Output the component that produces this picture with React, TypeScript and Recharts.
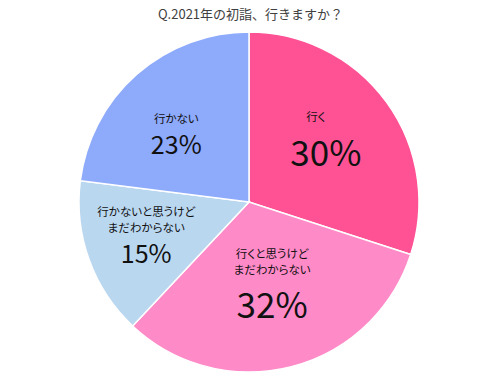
import { PieChart, Pie, Cell } from "recharts";

const answers = ["行く", "行くと思うけど\nまだわからない", "行かないと思うけど\nまだわからない", "行かない"];
const shares = [30, 32, 15, 23];
const colors = ["#FF5295", "#FF8AC8", "#BAD7F0", "#8EAAFB"];

const data = answers.map((name, i) => ({ name, value: shares[i] }));

const RAD = Math.PI / 180;
const FONT = '"Noto Sans CJK JP", "Noto Sans", sans-serif';
// where each label block sits: fraction of the radius, and a small angle nudge
const labelRadius = [0.59, 0.49, 0.635, 0.585];
const labelTurn = [4, 1.7, -2, 5.6];
const LINE = 16;

const renderLabel = (props: any) => {
    const { cx, cy, midAngle, outerRadius, index, name, value } = props;
    const r = outerRadius * labelRadius[index];
    const a = (midAngle + labelTurn[index]) * RAD;
    const x = cx + r * Math.cos(-a);
    const y = cy + r * Math.sin(-a);
    const lines = String(name).split("\n");
    const big = value >= 30;
    const pctGap = big ? 36 : 27;
    const total = (lines.length - 1) * LINE + pctGap + 6 + (big ? 13 : 11);
    const top = y - total / 2 + 6;
    const nameDx = index === 0 ? -10 : 0;
    return (
        <g>
            {lines.map((line, i) => (
                <text
                    key={i}
                    x={x + nameDx}
                    y={top + i * LINE}
                    textAnchor="middle"
                    dominantBaseline="central"
                    fill="#111"
                    fontSize={11.5}
                    fontFamily={FONT}
                    style={{ fontFeatureSettings: '"palt"' }}
                >
                    {line}
                </text>
            ))}
            <text
                x={x}
                y={top + (lines.length - 1) * LINE + pctGap - 2}
                textAnchor="middle"
                dominantBaseline="central"
                fill="#111"
                fontSize={big ? 35 : 25}
                fontFamily={FONT}
            >
                {value}%
            </text>
        </g>
    );
};

export default function App() {
    return (
        <div style={{ position: "fixed", left: 0, top: 0, width: 501, height: 382, background: "#fff" }}>
            <div
                style={{
                    position: "absolute",
                    top: 4,
                    left: 0,
                    width: 501,
                    textAlign: "center",
                    fontFamily: FONT,
                    fontSize: 13,
                    color: "#404040",
                }}
            >
                Q.2021年の初詣、行きますか？
            </div>
            <PieChart width={501} height={382} margin={{ top: 0, right: 0, bottom: 0, left: 0 }}>
                <Pie
                    data={data}
                    dataKey="value"
                    nameKey="name"
                    cx={249}
                    cy={202}
                    outerRadius={170}
                    startAngle={90}
                    endAngle={-270}
                    stroke="#fff"
                    strokeWidth={1.5}
                    labelLine={false}
                    label={renderLabel}
                    isAnimationActive={false}
                >
                    {data.map((d, i) => (
                        <Cell key={d.name} fill={colors[i]} />
                    ))}
                </Pie>
            </PieChart>
        </div>
    );
}
